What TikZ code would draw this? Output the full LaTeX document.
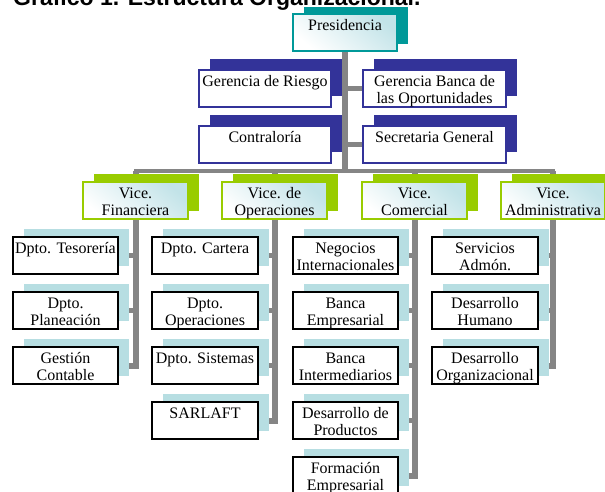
\documentclass[tikz,border=0pt]{standalone}
\usepackage{fontspec}
\setmainfont{Liberation Serif}
\newfontfamily\titlefont{Liberation Sans}
\usetikzlibrary{backgrounds}
\definecolor{tealD}{HTML}{009999}
\definecolor{navy}{HTML}{333399}
\definecolor{lime}{HTML}{99CC00}
\definecolor{paleblue}{HTML}{B7DEE2}
\definecolor{cyanL}{HTML}{C2E3E8}
\definecolor{conngray}{HTML}{858585}
\newcommand\obox[8]{%
  \node[#6, minimum width=#4pt, anchor=north west] (#1-b) at ({#2+11},{#3-#7}) {};
  \node[#5, minimum width=#4pt, anchor=north west] (#1) at (#2,#3) {};
  \node[txt, anchor=north] (#1-t) at ([yshift=-5pt]#1.north) {\rule{0pt}{11pt}#8};
}
\begin{document}
\begin{tikzpicture}[x=1pt,y=-1pt,
  boxbase/.style={minimum height=37pt, inner sep=0pt, outer sep=0pt},
  txt/.style={font=\fontsize{16}{17}\selectfont, align=center, inner sep=0pt},
  presF/.style={boxbase, draw=tealD, line width=1.5pt, top color=cyanL, bottom color=white, shading angle=-40},
  presB/.style={boxbase, fill=tealD},
  gerF/.style={boxbase, draw=navy, line width=1.5pt, fill=white},
  gerB/.style={boxbase, fill=navy},
  viceF/.style={boxbase, draw=lime, line width=1.5pt, top color=cyanL, bottom color=white, shading angle=-40},
  viceB/.style={boxbase, fill=lime},
  depF/.style={boxbase, draw=black, line width=1.5pt, fill=white},
  depB/.style={boxbase, fill=paleblue},
  conn/.style={draw=conngray, line width=6pt, line join=miter},
  stub/.style={draw=conngray, line width=5pt},
  barline/.style={draw=conngray, line width=4pt, line cap=rect}]
\useasboundingbox (0,0) rectangle (605,491);
\clip (0,0) rectangle (605,491);

\node[anchor=base west, inner sep=0pt, font=\titlefont\bfseries\fontsize{23}{26}\selectfont] (title) at (13,5) {Gráfico 1. Estructura Organizacional.};

% top level
\obox{pres}{293}{14}{104}{presF}{presB}{7}{Presidencia}
\obox{riesgo}{199}{70}{132}{gerF}{gerB}{11}{Gerencia de Riesgo}
\obox{banca}{363}{70}{143}{gerF}{gerB}{11}{Gerencia Banca de\\las Oportunidades}
\obox{contra}{199}{126}{132}{gerF}{gerB}{11}{Contraloría}
\obox{secre}{363}{126}{143}{gerF}{gerB}{11}{Secretaria General}

% vice presidencies
\obox{vfin}{83}{182}{105}{viceF}{viceB}{8}{Vice.\\Financiera}
\obox{vops}{222}{182}{105}{viceF}{viceB}{8}{Vice. de\\Operaciones}
\obox{vcom}{362}{182}{105}{viceF}{viceB}{8}{Vice.\\Comercial}
\obox{vadm}{501}{182}{104}{viceF}{viceB}{8}{Vice.\\Administrativa}

% Financiera
\obox{fin1}{13}{237}{105}{depF}{depB}{8}{Dpto. Tesorería}
\obox{fin2}{13}{292}{105}{depF}{depB}{8}{Dpto.\\Planeación}
\obox{fin3}{13}{347}{105}{depF}{depB}{8}{Gestión\\Contable}
% Operaciones
\obox{ops1}{152}{237}{106}{depF}{depB}{8}{Dpto. Cartera}
\obox{ops2}{152}{292}{106}{depF}{depB}{8}{Dpto.\\Operaciones}
\obox{ops3}{152}{347}{106}{depF}{depB}{8}{Dpto. Sistemas}
\obox{ops4}{152}{402}{106}{depF}{depB}{8}{SARLAFT}
% Comercial
\obox{com1}{293}{237}{105}{depF}{depB}{8}{Negocios\\Internacionales}
\obox{com2}{293}{292}{105}{depF}{depB}{8}{Banca\\Empresarial}
\obox{com3}{293}{347}{105}{depF}{depB}{8}{Banca\\Intermediarios}
\obox{com4}{293}{402}{105}{depF}{depB}{8}{Desarrollo de\\Productos}
\obox{com5}{293}{457}{105}{depF}{depB}{8}{Formación\\Empresarial}
% Administrativa
\obox{adm1}{432}{237}{106}{depF}{depB}{8}{Servicios\\Admón.}
\obox{adm2}{432}{292}{106}{depF}{depB}{8}{Desarrollo\\Humano}
\obox{adm3}{432}{347}{106}{depF}{depB}{8}{Desarrollo\\Organizacional}

\coordinate (bar) at (345,171);

\begin{scope}[on background layer]
  \draw[conn] (pres.south) -- (pres.south |- bar);
  \draw[stub] (riesgo.east) -- (banca.west);
  \draw[stub] (contra.east) -- (secre.west);
  \draw[barline] (vfin.south |- bar) -- (vadm.south |- bar);
  \draw[conn] (vfin.south |- bar) -- (vfin.south |- fin3.east) -- (fin3.east);
  \draw[conn] (vops.south |- bar) -- (vops.south |- ops4.east) -- (ops4.east);
  \draw[conn] (vcom.south |- bar) -- (vcom.south |- com5.east) -- (com5.east);
  \draw[conn] (vadm.south |- bar) -- (vadm.south |- adm3.east) -- (adm3.east);
  \foreach \c in {fin1,fin2} \draw[stub] (\c.east) -- (vfin.south |- \c.east);
  \foreach \c in {ops1,ops2,ops3} \draw[stub] (\c.east) -- (vops.south |- \c.east);
  \foreach \c in {com1,com2,com3,com4} \draw[stub] (\c.east) -- (vcom.south |- \c.east);
  \foreach \c in {adm1,adm2} \draw[stub] (\c.east) -- (vadm.south |- \c.east);
\end{scope}
\end{tikzpicture}
\end{document}
